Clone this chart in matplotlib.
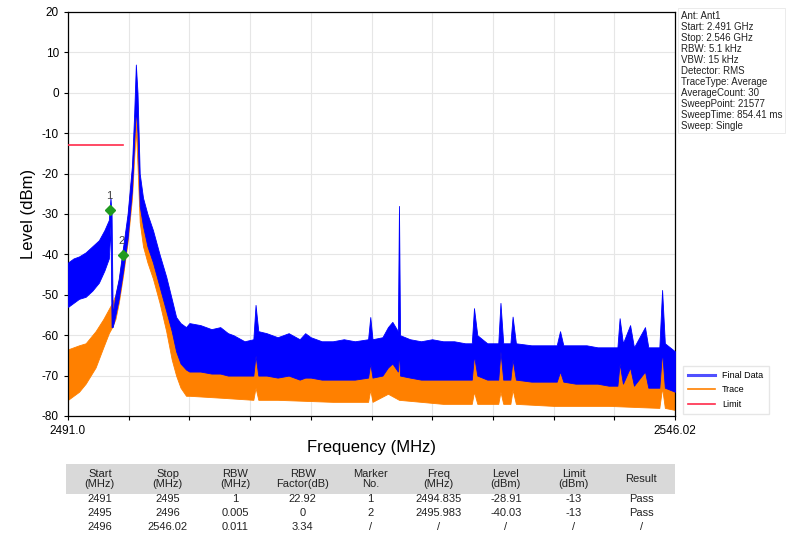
import matplotlib
matplotlib.use("Agg")
import matplotlib.pyplot as plt
from matplotlib.patches import Rectangle
from matplotlib.lines import Line2D

plt.rcParams['font.family'] = ['Liberation Sans', 'DejaVu Sans']
plt.rcParams['axes.unicode_minus'] = False

# ---------------- data ----------------
# Final Data (blue) envelope: frequency (MHz), upper level, lower level (dBm)
final_freq = [2491.0, 2491.5, 2492.0, 2492.6, 2493.2, 2493.8, 2494.3, 2494.7, 2494.85, 2494.95,
              2495.05, 2495.3, 2495.6, 2496.0, 2496.4, 2496.8, 2497.0, 2497.15, 2497.3, 2497.5,
              2497.8, 2498.2, 2498.7, 2499.3, 2499.9, 2500.4, 2500.8, 2501.2, 2501.7, 2502.0,
              2503.0, 2504.0, 2504.8, 2505.5, 2506.0, 2507.0, 2507.8, 2508.0, 2508.25, 2509.0,
              2510.0, 2511.0, 2512.0, 2512.5, 2513.0, 2514.0, 2515.0, 2516.0, 2517.0, 2518.2,
              2518.4, 2518.6, 2519.5, 2520.0, 2520.4, 2520.9, 2521.0, 2521.1, 2522.0, 2523.0,
              2524.0, 2525.0, 2526.0, 2527.0, 2527.6, 2527.8, 2528.1, 2529.0, 2530.0, 2530.2,
              2530.45, 2531.1, 2531.3, 2531.6, 2533.0, 2534.0, 2535.3, 2535.6, 2535.9, 2537.0,
              2538.0, 2539.0, 2540.0, 2540.8, 2541.0, 2541.3, 2541.95, 2542.3, 2543.3, 2543.6,
              2544.6, 2544.85, 2545.1, 2546.02]
final_upper = [-42, -41, -40.5, -39.5, -38, -36.5, -34, -31.5, -26, -30,
               -55, -50, -46, -38, -30, -18, -5, 7, 0, -20,
               -26, -30, -34, -40, -45.5, -51, -55.5, -57, -58, -57,
               -57.5, -58.5, -58, -59.5, -60, -61.5, -61, -52.5, -59, -59.5,
               -60.5, -59.5, -61, -59.5, -60.5, -61.5, -61.5, -61, -61.5, -61,
               -55.5, -61, -60.5, -58, -56.7, -59, -28, -60, -61, -61.5,
               -61, -61.5, -61.5, -62, -62, -53.3, -60, -62, -62, -52,
               -62, -62, -55.4, -62, -62.5, -62.5, -62.5, -59, -62.5, -62.5,
               -62.5, -63, -63, -63, -55.8, -62, -57.5, -63, -58, -63,
               -63, -48.8, -62, -64]
final_lower = [-53, -52, -51, -50.5, -49, -47, -44, -41, -33, -58,
               -58, -55, -51, -44, -36, -24, -12, -4, -10, -28,
               -33, -38, -42, -48, -54, -59, -64, -67, -68.5, -69,
               -69, -69.5, -69.5, -70, -70, -70, -70, -65, -70, -70,
               -70.5, -70, -71, -70.5, -70.5, -71, -71, -71, -71, -70.5,
               -67, -70.5, -70, -68, -67, -69, -64, -70, -70.5, -71,
               -71, -71, -71, -71, -71, -65, -70, -71, -71, -64,
               -71, -71, -66, -71, -71.5, -71.5, -71.5, -69, -71.5, -72,
               -72, -72, -72.5, -72.5, -67, -72, -68, -72.5, -69, -73,
               -73, -64, -73, -74]

# Trace (orange) envelope
trace_freq = [2491.0, 2492.0, 2492.6, 2493.5, 2494.2, 2494.7, 2495.0, 2495.3, 2495.6, 2496.0,
              2496.4, 2496.8, 2497.0, 2497.15, 2497.3, 2497.5, 2497.8, 2498.2, 2498.7, 2499.3,
              2499.9, 2500.4, 2500.8, 2501.2, 2501.7, 2502.0, 2505.0, 2507.8, 2508.0, 2508.25,
              2510.0, 2515.0, 2518.2, 2518.4, 2518.6, 2520.0, 2521.0, 2525.0, 2527.6, 2527.8,
              2528.1, 2530.0, 2530.2, 2530.45, 2531.1, 2531.3, 2531.6, 2535.0, 2540.0, 2544.6,
              2544.85, 2545.1, 2546.02]
trace_upper = [-63.5, -62.5, -62, -59, -56, -53.5, -52, -50, -46.5, -39,
               -31, -19, -10, -5, -12, -24, -30, -34, -38, -44,
               -50, -56, -60, -63, -64, -64, -65, -65, -62, -65,
               -65.5, -66, -66, -62, -66, -64, -66, -66, -66, -63,
               -66, -66, -62, -66, -66, -61, -66, -67, -67, -67,
               -60, -67, -67]
trace_lower = [-76, -74, -72, -68, -63, -59.5, -58, -56, -52, -45,
               -37, -26, -16, -9, -18, -32, -38, -42, -46, -52,
               -59, -66, -70, -73, -75, -75, -75.5, -76, -73, -76,
               -76, -76.5, -76.5, -73.5, -76.5, -74.5, -76, -77, -77, -74,
               -77, -77, -74, -77, -77, -73.5, -77, -77.5, -77.5, -78,
               -73, -78, -78.5]

# Limit line
limit_freq = [2491.0, 2496.0]
limit_level = [-13, -13]

# Markers / table
table_start = ["2491", "2495", "2496"]
table_stop = ["2495", "2496", "2546.02"]
table_rbw = ["1", "0.005", "0.011"]
table_factor = ["22.92", "0", "3.34"]
marker_no = ["1", "2", "/"]
marker_freq = [2494.835, 2495.983]
marker_level = [-28.91, -40.03]
table_freq = ["2494.835", "2495.983", "/"]
table_level = ["-28.91", "-40.03", "/"]
table_limit = ["-13", "-13", "/"]
table_result = ["Pass", "Pass", "/"]
header = ["Start\n(MHz)", "Stop\n(MHz)", "RBW\n(MHz)", "RBW\nFactor(dB)", "Marker\nNo.",
          "Freq\n(MHz)", "Level\n(dBm)", "Limit\n(dBm)", "Result"]

info_lines = ["Ant: Ant1", "Start: 2.491 GHz", "Stop: 2.546 GHz", "RBW: 5.1 kHz", "VBW: 15 kHz",
              "Detector: RMS", "TraceType: Average", "AverageCount: 30", "SweepPoint: 21577",
              "SweepTime: 854.41 ms", "Sweep: Single"]

x_min, x_max = 2491.0, 2546.02
y_min, y_max = -80, 20

# ---------------- figure ----------------
W, H = 809, 539
fig = plt.figure(figsize=(W / 100, H / 100), dpi=100)
fig.patch.set_facecolor("white")

ax = fig.add_axes([68 / W, 1 - 416 / H, 607 / W, 404 / H])
ax.fill_between(trace_freq, trace_lower, trace_upper, color="#ff8000", lw=0.6, zorder=2)
ax.fill_between(final_freq, final_lower, final_upper, color="#0000ff", lw=0.6, zorder=3)
ax.plot(limit_freq, limit_level, color="#ff2a4a", lw=1.2, zorder=4)
ax.plot(marker_freq, marker_level, linestyle="none", marker="D", markersize=5,
        color="#1f9a1f", zorder=5)
for i, (f, l) in enumerate(zip(marker_freq, marker_level)):
    ax.annotate(marker_no[i], (f, l), xytext=(-1, 6), textcoords="offset points",
                ha="center", va="bottom", fontsize=8, color="#404040", zorder=6)

ax.set_xlim(x_min, x_max)
ax.set_ylim(y_min, y_max)
xt = [x_min + k * (x_max - x_min) / 10 for k in range(11)]
ax.set_xticks(xt)
ax.set_xticklabels(["2491.0"] + [""] * 9 + ["2546.02"], fontsize=8.5)
ax.set_yticks(range(-80, 21, 10))
ax.tick_params(axis="y", labelsize=8.5, length=3)
ax.tick_params(axis="x", length=3)
ax.grid(True, color="#e6e6e6", lw=0.8)
ax.set_axisbelow(True)
for s in ax.spines.values():
    s.set_color("black")
    s.set_linewidth(0.9)
ax.set_ylabel("Level (dBm)", fontsize=12, labelpad=4)
ax.set_xlabel("Frequency (MHz)", fontsize=12, labelpad=2)

# info box
fig.text(681 / W, 1 - 11 / H, "\n".join(info_lines), fontsize=7, va="top", ha="left",
         linespacing=1.12, color="#222222",
         bbox=dict(facecolor="white", edgecolor="#e8e8e8", pad=2, lw=0.6))

# legend
handles = [Line2D([], [], color="#5050ff", lw=2.2),
           Line2D([], [], color="#ff8000", lw=1.2),
           Line2D([], [], color="#ff2a4a", lw=1.2)]
fig.legend(handles, ["Final Data", "Trace", "Limit"], loc="upper left",
           bbox_to_anchor=(678 / W, 1 - 361 / H), fontsize=6.5, frameon=True,
           edgecolor="#e0e0e0", fancybox=False, handlelength=3, borderpad=0.6,
           labelspacing=0.6)

# table
tax = fig.add_axes([0, 0, 1, 1])
tax.set_xlim(0, W)
tax.set_ylim(H, 0)
tax.axis("off")
t_left, t_right = 66, 675
cw = (t_right - t_left) / 9
tax.add_patch(Rectangle((t_left, 464), t_right - t_left, 30, facecolor="#d9d9d9",
                        edgecolor="none"))
rows = [table_start, table_stop, table_rbw, table_factor, marker_no, table_freq,
        table_level, table_limit, table_result]
for c in range(9):
    cx = t_left + cw * (c + 0.5)
    tax.text(cx, 479, header[c], ha="center", va="center", fontsize=8, linespacing=1.0,
             color="#222222")
    for r in range(3):
        tax.text(cx, 499 + 14 * r, rows[c][r], ha="center", va="center", fontsize=8,
                 color="#222222")

fig.savefig("out.png", dpi=100, facecolor="white")
